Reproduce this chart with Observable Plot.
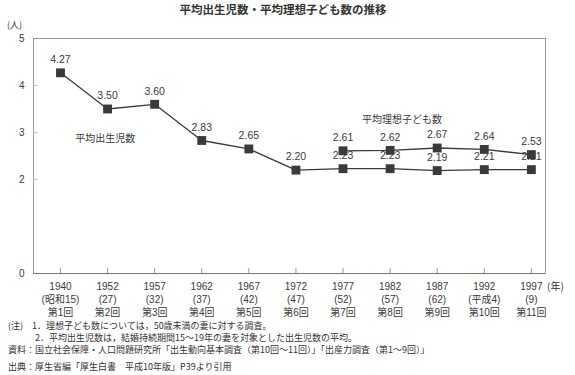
<!DOCTYPE html>
<html><head><meta charset="utf-8">
<script src="https://cdn.jsdelivr.net/npm/d3@7"></script>
<script src="https://cdn.jsdelivr.net/npm/@observablehq/plot@0.6"></script>
<style>
body{margin:0;background:#fff;font-family:"Liberation Sans","Noto Sans CJK JP",sans-serif;color:#333;}
#wrap{position:relative;width:575px;height:375px;overflow:hidden;}
.t{position:absolute;white-space:pre;font-family:"Noto Sans CJK JP",sans-serif;color:#333;line-height:1.2;}
</style></head>
<body><div id="wrap"></div>
<script>
const years = ["1940","1952","1957","1962","1967","1972","1977","1982","1987","1992","1997"];
const eras = ["(昭和15)","(27)","(32)","(37)","(42)","(47)","(52)","(57)","(62)","(平成4)","(9)"];
const rounds = ["第1回","第2回","第3回","第4回","第5回","第6回","第7回","第8回","第9回","第10回","第11回"];
const births = [4.27,3.50,3.60,2.83,2.65,2.20,2.23,2.23,2.19,2.21,2.21];
const ideal = [null,null,null,null,null,null,2.61,2.62,2.67,2.64,2.53];
const yTicks = [0,2,3,4,5];
const title = "平均出生児数・平均理想子ども数の推移";
const notes = [
  "(注)　1．理想子ども数については，50歳未満の妻に対する調査。",
  "　　　2．平均出生児数は，結婚持続期間15～19年の妻を対象とした出生児数の平均。",
  "資料：国立社会保障・人口問題研究所「出生動向基本調査（第10回～11回）」「出産力調査（第1～9回）」",
  "出典：厚生省編「厚生白書　平成10年版」P39より引用"
];

const idx = years.map((_, i) => i);
const bData = idx.map(i => ({i, v: births[i]}));
const iData = idx.filter(i => ideal[i] != null).map(i => ({i, v: ideal[i]}));
const lab = i => years[i] + "\n" + eras[i] + "\n" + rounds[i];

const ink = "#3a3a3a";
const chart = Plot.plot({
  width: 575, height: 320,
  marginLeft: 33, marginRight: 30, marginTop: 38, marginBottom: 47,
  style: {fontFamily: "'Liberation Sans','Noto Sans CJK JP',sans-serif", fontSize: "10px", color: ink, background: "transparent"},
  x: {type: "linear", domain: [-0.573, 10.30], axis: null},
  y: {domain: [0, 5], axis: null},
  marks: [
    Plot.frame({stroke: "#999", strokeWidth: 1}),
    Plot.ruleY([0], {stroke: "#777", strokeWidth: 1.2}),
    Plot.axisX(idx, {anchor: "bottom", label: null, tickSize: 0, tickPadding: 7, tickFormat: lab, lineHeight: 1.3, fontFamily: "'Liberation Sans','Noto Sans CJK JP',sans-serif", fill: ink}),
    Plot.axisX(idx, {anchor: "bottom", label: null, tickSize: -5, tickFormat: () => "", stroke: "#999"}),
    Plot.axisY(yTicks, {anchor: "left", label: null, tickSize: 0, tickPadding: 9, fill: ink, fontSize: 10}),
    Plot.axisY(yTicks.filter(v => v > 0 && v < 5), {anchor: "left", label: null, tickSize: -4, tickFormat: () => "", stroke: "#bbb"}),
    Plot.line(bData, {x: "i", y: "v", stroke: ink, strokeWidth: 1.3}),
    Plot.line(iData, {x: "i", y: "v", stroke: ink, strokeWidth: 1.3}),
    Plot.dot(bData, {x: "i", y: "v", symbol: "square", r: 5, fill: ink, stroke: "none"}),
    Plot.dot(iData, {x: "i", y: "v", symbol: "square", r: 5, fill: ink, stroke: "none"}),
    Plot.text(bData, {x: "i", y: "v", text: d => d.v.toFixed(2), dy: -13, fill: ink, fontSize: 10.5}),
    Plot.text(iData, {x: "i", y: "v", text: d => d.v.toFixed(2), dy: -13, fill: ink, fontSize: 10.5}),
    Plot.text(["平均出生児数"], {x: 0.95, y: 2.86, text: d => d, fontFamily: "'Noto Sans CJK JP',sans-serif", fontSize: 10, fill: ink}),
    Plot.text(["平均理想子ども数"], {x: 7.25, y: 3.27, text: d => d, fontFamily: "'Noto Sans CJK JP',sans-serif", fontSize: 10, fill: ink})
  ]
});
chart.style.position = "absolute";
chart.style.left = "0px";
chart.style.top = "0px";
const wrap = document.getElementById("wrap");
wrap.appendChild(chart);

function addText(txt, left, top, size, extra) {
  const d = document.createElement("div");
  d.className = "t";
  d.textContent = txt;
  d.style.left = left + "px";
  d.style.top = top + "px";
  d.style.fontSize = size + "px";
  if (extra) Object.assign(d.style, extra);
  wrap.appendChild(d);
}
addText(title, 0, 3, 11.5, {width: "566px", textAlign: "center", fontWeight: "bold"});
addText("(人)", 7, 20, 9);
addText("(年)", 547, 280, 10);
addText(notes[0], 8, 321, 9);
addText(notes[1], 8, 333, 9);
addText(notes[2], 8, 345, 9);
addText(notes[3], 8, 362, 9);
</script></body></html>
